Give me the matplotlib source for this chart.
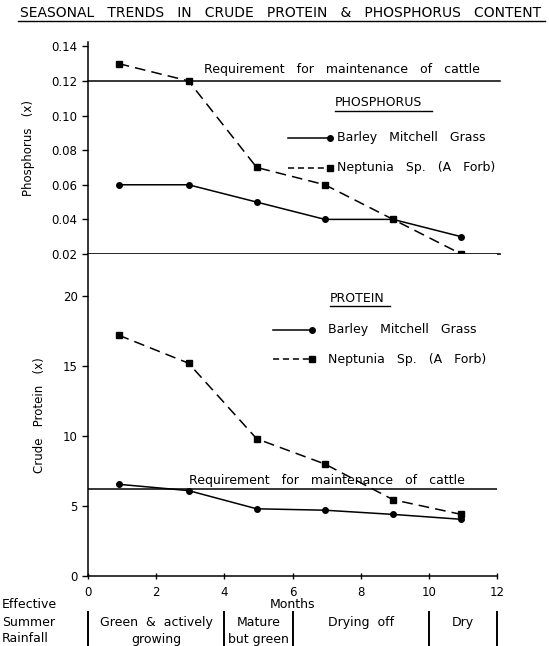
import matplotlib.pyplot as plt
from matplotlib.lines import Line2D

# data
months = [0.9, 2.95, 4.95, 6.95, 8.95, 10.95]
phos_barley = [0.06, 0.06, 0.05, 0.04, 0.04, 0.03]
phos_neptunia = [0.13, 0.12, 0.07, 0.06, 0.04, 0.02]
prot_barley = [6.55, 6.1, 4.8, 4.7, 4.4, 4.05]
prot_neptunia = [17.2, 15.2, 9.8, 8.0, 5.45, 4.4]
phos_req = 0.12
prot_req = 6.2

phase_bounds = [0, 4, 6, 10, 12]
phase_labels = [("Green  &  actively", "growing"), ("Mature", "but green"),
                ("Drying  off", ""), ("Dry", "")]

plt.rcParams['font.family'] = ['DejaVu Sans']
fs = 8.5
fs_txt = 9
dash = (0, (7, 4))

fig = plt.figure(figsize=(5.49, 6.46), dpi=100)
W, H = 549.0, 646.0

def fx(px):
    return px / W

def fy(py):
    return 1 - py / H

left, right = fx(88), fx(497)
ax_p = fig.add_axes([left, fy(254), right - left, fy(42) - fy(254)])
ax_c = fig.add_axes([left, fy(576), right - left, fy(254) - fy(576)])

for ax in (ax_p, ax_c):
    ax.spines['top'].set_visible(False)
    ax.spines['right'].set_visible(False)
    ax.set_xlim(0, 12)
    ax.tick_params(axis='y', labelsize=fs, length=4, width=1, direction='out')
    for s in ax.spines.values():
        s.set_linewidth(1.1)

# ---- phosphorus ----
ax_p.set_ylim(0.02, 0.1425)
ax_p.set_yticks([0.02, 0.04, 0.06, 0.08, 0.10, 0.12, 0.14])
ax_p.set_yticklabels(['0.02', '0.04', '0.06', '0.08', '0.10', '0.12', '0.14'])
ax_p.set_xticks([])
ax_p.spines['bottom'].set_visible(False)
ax_p.plot([0, 12.1], [0.02, 0.02], color='black', lw=1.2, clip_on=False)
ax_p.plot(months, phos_barley, '-', color='black', lw=1.1, marker='o', ms=4)
ax_p.plot(months, phos_neptunia, color='black', lw=1.1, ls=dash,
          marker='s', ms=4)
ax_p.plot([0, 12.1], [phos_req, phos_req], color='black', lw=1.1, clip_on=False)
ax_p.text(3.4, phos_req + 0.003, 'Requirement   for   maintenance   of   cattle',
          fontsize=fs_txt, va='bottom', ha='left')
ax_p.set_ylabel('Phosphorus   (x)', fontsize=fs, labelpad=12)

# ---- crude protein ----
ax_c.set_ylim(0, 23)
ax_c.set_yticks([0, 5, 10, 15, 20])
ax_c.set_xticks(range(0, 13, 2))
ax_c.tick_params(axis='x', labelsize=fs, direction='inout', length=5, width=1, pad=5)
ax_c.plot(months, prot_barley, '-', color='black', lw=1.1, marker='o', ms=4)
ax_c.plot(months, prot_neptunia, color='black', lw=1.1, ls=dash,
          marker='s', ms=4)
ax_c.plot([0, 12], [prot_req, prot_req], color='black', lw=1.1)
ax_c.text(2.95, prot_req + 0.15, 'Requirement   for   maintenance   of   cattle',
          fontsize=fs_txt, va='bottom', ha='left')
ax_c.set_ylabel('Crude   Protein   (x)', fontsize=fs, labelpad=12)
ax_c.set_xlabel('Months', fontsize=fs_txt, labelpad=-1)

# ---- legends (drawn by hand, marker at right end) ----
def legend_block(title, tx, ty, lx0, lx1, ys, text_x, title_w):
    fig.text(fx(tx), fy(ty), title, fontsize=fs_txt, ha='left', va='center')
    fig.add_artist(Line2D([fx(tx), fx(tx + title_w)], [fy(ty + 8), fy(ty + 8)],
                          color='black', lw=1))
    names = ['Barley   Mitchell   Grass', 'Neptunia   Sp.   (A   Forb)']
    styles = [('-', 'o'), ((0, (4, 2.5)), 's')]
    for (ls, mk), y, name in zip(styles, ys, names):
        fig.add_artist(Line2D([fx(lx0), fx(lx1)], [fy(y), fy(y)], color='black',
                              lw=1.1, ls=ls, marker=mk, ms=4, markevery=[1]))
        fig.text(fx(text_x), fy(y), name, fontsize=fs_txt, ha='left', va='center')

legend_block('PHOSPHORUS', 335, 103, 288, 330, [138, 168], 337, 97)
legend_block('PROTEIN', 330, 298, 273, 312, [330, 359], 328, 60)

# ---- title ----
fig.text(fx(281), fy(13), 'SEASONAL   TRENDS   IN   CRUDE   PROTEIN   &   PHOSPHORUS   CONTENT',
         fontsize=10, ha='center', va='center')
fig.add_artist(Line2D([fx(18), fx(545)], [fy(21), fy(21)], color='black', lw=1))

# ---- effective summer rainfall strip ----
for i, word in enumerate(['Effective', 'Summer', 'Rainfall']):
    fig.text(fx(2), fy(605 + 17 * i), word, fontsize=fs_txt, ha='left', va='center')
for b in phase_bounds:
    ax_c.plot([b, b], [-0.112, -0.23], color='black', lw=1.4, clip_on=False,
              transform=ax_c.get_xaxis_transform())
for i, (l1, l2) in enumerate(phase_labels):
    mid = (phase_bounds[i] + phase_bounds[i + 1]) / 2
    ax_c.text(mid, -0.143, l1, fontsize=fs_txt, ha='center', va='center',
              transform=ax_c.get_xaxis_transform())
    if l2:
        ax_c.text(mid, -0.197, l2, fontsize=fs_txt, ha='center', va='center',
                  transform=ax_c.get_xaxis_transform())

fig.savefig('out.png', dpi=100)
